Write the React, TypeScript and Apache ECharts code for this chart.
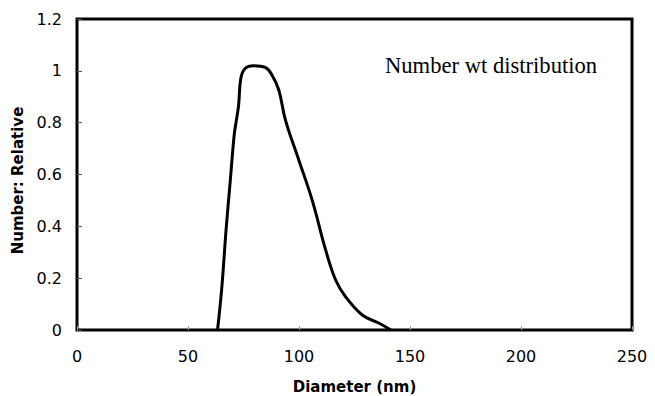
import React, { useEffect, useRef } from "react";
import * as echarts from "echarts";

const diameters = [63.3, 65.2, 67.2, 69.0, 70.8, 71.7, 72.8, 73.8, 75.8, 79.6, 84.8, 87.8, 90.9, 93.9, 99.9, 105.9, 112, 116.5, 121, 128.5, 136.1, 141.4];
const numberRel = [0, 0.161, 0.392, 0.572, 0.752, 0.804, 0.868, 0.971, 1.01, 1.02, 1.013, 0.984, 0.926, 0.81, 0.656, 0.502, 0.309, 0.193, 0.128, 0.058, 0.026, 0];
const xTicks = [0, 50, 100, 150, 200, 250];
const yTicks = [0, 0.2, 0.4, 0.6, 0.8, 1, 1.2];

export default function App() {
  const ref = useRef<HTMLDivElement>(null);
  useEffect(() => {
    if (!ref.current) return;
    const chart = echarts.init(ref.current, undefined, { renderer: "svg" });
    chart.setOption({
      animation: false,
      backgroundColor: "#ffffff",
      grid: {
        left: 77,
        right: 23,
        top: 19,
        bottom: 66,
        show: true,
        borderColor: "#000",
        borderWidth: 3,
        backgroundColor: "transparent",
        containLabel: false,
        outerBoundsMode: "none",
      },
      xAxis: {
        type: "value",
        min: xTicks[0],
        max: xTicks[xTicks.length - 1],
        interval: 50,
        name: "Diameter (nm)",
        nameLocation: "middle",
        nameGap: 49,
        nameTextStyle: { fontFamily: "DejaVu Sans", fontSize: 15, fontWeight: "bold", color: "#000" },
        axisLine: { show: false },
        axisTick: { show: true, inside: true, length: 4, lineStyle: { color: "#999", width: 1 } },
        axisLabel: { fontFamily: "DejaVu Sans", fontSize: 16, color: "#000", margin: 18 },
        splitLine: { show: false },
      },
      yAxis: {
        type: "value",
        min: yTicks[0],
        max: yTicks[yTicks.length - 1],
        interval: 0.2,
        name: "Number: Relative",
        nameLocation: "middle",
        nameGap: 51,
        nameTextStyle: {
          fontFamily: "DejaVu Sans",
          fontSize: 15,
          fontWeight: "bold",
          color: "#000",
          padding: [0, 12, 0, 0],
        },
        axisLine: { show: false },
        axisTick: { show: true, inside: true, length: 5, lineStyle: { color: "#555", width: 1 } },
        axisLabel: { fontFamily: "DejaVu Sans", fontSize: 16, color: "#000", margin: 15 },
        splitLine: { show: false },
      },
      graphic: [
        {
          type: "text",
          left: 385,
          top: 54,
          style: { text: "Number wt distribution", fontFamily: "Liberation Serif", fontSize: 22.6, fill: "#000" },
        },
      ],
      series: [
        {
          type: "line",
          data: diameters.map((d, i) => [d, numberRel[i]]),
          smooth: 0.4,
          showSymbol: false,
          lineStyle: { color: "#000", width: 3 },
        },
      ],
    });
    return () => chart.dispose();
  }, []);
  return <div ref={ref} style={{ width: 655, height: 396, position: "absolute", left: 0, top: 0 }} />;
}
